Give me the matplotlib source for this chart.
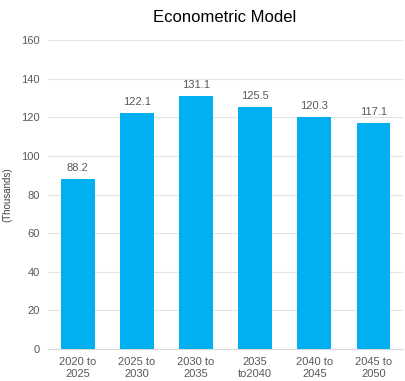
import matplotlib
matplotlib.use('Agg')
import matplotlib.pyplot as plt

# Chart data
periods = ['2020 to\n2025', '2025 to\n2030', '2030 to\n2035', '2035\nto2040', '2040 to\n2045', '2045 to\n2050']
values = [88.2, 122.1, 131.1, 125.5, 120.3, 117.1]
y_ticks = [0, 20, 40, 60, 80, 100, 120, 140, 160]

plt.rcParams['font.family'] = ['Liberation Sans', 'DejaVu Sans']
text_color = '#595959'

fig = plt.figure(figsize=(4.05, 3.81), dpi=100)
ax = fig.add_axes([0.119, 0.084, 0.876, 0.811])

x = range(len(values))
ax.bar(x, values, width=0.57, color='#00B0F0', zorder=3)

# value labels above bars
for xi, v in zip(x, values):
    ax.text(xi, v + 3, f'{v:.1f}', ha='center', va='bottom', fontsize=8, color=text_color)

ax.set_xlim(-0.5, len(values) - 0.5)
ax.set_ylim(0, 160)
ax.set_yticks(y_ticks)
ax.set_xticks(list(x))
ax.set_xticklabels(periods, fontsize=8, color=text_color)
ax.tick_params(axis='y', labelsize=8, labelcolor=text_color, length=0, pad=6)
ax.tick_params(axis='x', length=0, pad=6)

ax.grid(axis='y', color='#e3e3e3', linewidth=0.8, zorder=0)
for side in ['top', 'right', 'left']:
    ax.spines[side].set_visible(False)
ax.spines['bottom'].set_color('#d9d9d9')

ax.set_ylabel('(Thousands)', fontsize=7, color='#404040')
ax.yaxis.set_label_coords(-0.1, 0.5)
fig.text(0.555, 0.955, 'Econometric Model', ha='center', va='center', fontsize=12, color='black')

plt.savefig('out.png', dpi=100)
